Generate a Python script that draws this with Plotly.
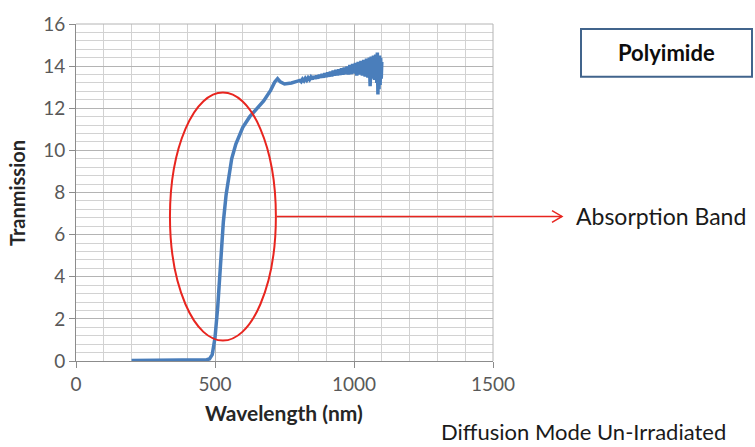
import plotly.graph_objects as go

# ---- data ----
wavelength_smooth = [200, 250, 300, 350, 400, 450, 470, 480, 490, 500, 510, 520, 530, 540,
                     550, 560, 575, 600, 625, 650, 675, 700, 715, 725, 735, 750, 775, 800]
transmission_smooth = [0.02, 0.02, 0.02, 0.02, 0.03, 0.04, 0.06, 0.1, 0.3, 1.1, 2.6, 4.6, 6.6, 7.9,
                       8.8, 9.6, 10.3, 11.1, 11.6, 12.0, 12.35, 12.85, 13.25, 13.4, 13.25, 13.15, 13.2, 13.3]

wavelength_noisy = [805, 810, 815, 820, 825, 830, 835, 840, 845, 850, 855, 860, 865, 870, 875,
                    880, 885, 890, 895, 900, 905, 910, 915, 920, 925, 930, 935, 940, 945, 950,
                    955, 960, 965, 970, 975, 980, 985, 990, 995, 1000, 1005, 1010, 1015, 1020,
                    1025, 1030, 1035, 1040, 1045, 1050, 1055, 1058, 1062, 1066, 1070, 1074,
                    1078, 1082, 1084, 1086, 1088, 1090, 1092, 1094, 1096, 1098, 1100]
transmission_noisy = [13.32, 13.26, 13.38, 13.30, 13.42, 13.33, 13.45, 13.36, 13.48, 13.38, 13.52,
                      13.40, 13.55, 13.42, 13.58, 13.45, 13.62, 13.46, 13.66, 13.48, 13.70, 13.50,
                      13.74, 13.52, 13.78, 13.55, 13.82, 13.56, 13.85, 13.58, 13.90, 13.60, 13.93,
                      13.62, 13.98, 13.60, 14.05, 13.62, 14.10, 13.65, 14.15, 13.55, 14.20, 13.60,
                      14.25, 13.55, 14.30, 13.50, 14.35, 13.45, 14.40, 13.05, 14.45, 13.40, 14.50,
                      13.35, 14.55, 13.20, 14.65, 12.65, 14.45, 12.90, 14.50, 13.10, 14.40, 13.40,
                      14.20]

x_ticks = [0, 500, 1000, 1500]
y_ticks = [0, 2, 4, 6, 8, 10, 12, 14, 16]

# annotation ellipse (data units) and label texts
band_x = [338, 719]
band_y = [0.97, 12.75]
band_label = "Absorption Band"
mode_label = "Diffusion Mode Un-Irradiated"
material_label = "Polyimide"

FONT = "Lato, Open Sans, sans-serif"
W, H = 755, 447
L, R, T, B = 76, 262, 16, 86
pw, ph = W - L - R, H - T - B


def px(xp):
    return (xp - L) / pw


def py(yp):
    return (H - B - yp) / ph


fig = go.Figure()
fig.add_trace(go.Scatter(
    x=wavelength_smooth + wavelength_noisy,
    y=transmission_smooth + transmission_noisy,
    mode="lines",
    line=dict(color="#4a7ebb", width=3.5),
    hoverinfo="skip",
))

grid_major = "#b4b4b4"
grid_minor = "#d2d2d2"

fig.update_xaxes(
    range=[0, 1500], tickvals=x_ticks, ticktext=[str(v) for v in x_ticks],
    showgrid=True, gridcolor=grid_major, gridwidth=1,
    minor=dict(dtick=100, tick0=0, showgrid=True, gridcolor=grid_minor, gridwidth=1),
    ticks="outside", ticklen=6, tickcolor="#8c8c8c",
    showline=True, linecolor="#8c8c8c", linewidth=1, mirror=False,
    zeroline=False,
    tickfont=dict(family=FONT, size=19, color="#595959"),
)
fig.update_yaxes(
    range=[0, 16], tickvals=y_ticks,
    showgrid=True, gridcolor=grid_major, gridwidth=1,
    minor=dict(dtick=0.4, tick0=0, showgrid=True, gridcolor=grid_minor, gridwidth=1),
    ticks="outside", ticklen=6, tickcolor="#8c8c8c",
    showline=True, linecolor="#8c8c8c", linewidth=1,
    zeroline=False,
    tickfont=dict(family=FONT, size=19, color="#595959"),
)

red = "#e8251f"
shapes = [
    # red ellipse around absorption band
    dict(type="circle", xref="x", yref="y", x0=band_x[0], x1=band_x[1], y0=band_y[0], y1=band_y[1],
         line=dict(color=red, width=2)),
    # arrow shaft
    dict(type="line", xref="paper", yref="paper", x0=px(277), x1=px(562), y0=py(213), y1=py(213),
         line=dict(color=red, width=1.5)),
    # open chevron head
    dict(type="path", xref="paper", yref="paper",
         path=f"M {px(552)},{py(207)} L {px(562)},{py(213)} L {px(552)},{py(219)}",
         line=dict(color=red, width=1.5)),
    # Polyimide box
    dict(type="rect", xref="paper", yref="paper", x0=px(581), x1=px(752), y0=py(70), y1=py(21),
         line=dict(color="#41648c", width=2), fillcolor="white"),
    # top/right frame lines as grid
    dict(type="line", xref="paper", yref="paper", x0=0, x1=1, y0=1, y1=1,
         line=dict(color=grid_major, width=1)),
    dict(type="line", xref="paper", yref="paper", x0=1, x1=1, y0=0, y1=1,
         line=dict(color=grid_major, width=1)),
]

annotations = [
    dict(text="<b>Wavelength (nm)</b>", xref="paper", yref="paper", x=px(284), y=py(414),
         showarrow=False, xanchor="center", yanchor="middle",
         font=dict(family=FONT, size=21, color="#262626")),
    dict(text="<b>Tranmission</b>", xref="paper", yref="paper", x=px(17), y=py(189),
         showarrow=False, xanchor="center", yanchor="middle", textangle=-90,
         font=dict(family=FONT, size=20, color="#262626")),
    dict(text=band_label, xref="paper", yref="paper", x=px(574), y=py(213),
         showarrow=False, xanchor="left", yanchor="middle",
         font=dict(family=FONT, size=23, color="#1a1a1a")),
    dict(text=mode_label, xref="paper", yref="paper", x=px(439), y=py(433),
         showarrow=False, xanchor="left", yanchor="middle",
         font=dict(family=FONT, size=22, color="#1a1a1a")),
    dict(text=f"<b>{material_label}</b>", xref="paper", yref="paper", x=px(666), y=py(45),
         showarrow=False, xanchor="center", yanchor="middle",
         font=dict(family=FONT, size=22, color="#0d0d0d")),
]

fig.update_layout(
    width=W, height=H,
    margin=dict(l=L, r=R, t=T, b=B),
    plot_bgcolor="white", paper_bgcolor="white",
    showlegend=False,
    shapes=shapes,
    annotations=annotations,
)

fig.write_html("out.html", config={"displayModeBar": False},
               post_script="document.body.style.margin='0';")
